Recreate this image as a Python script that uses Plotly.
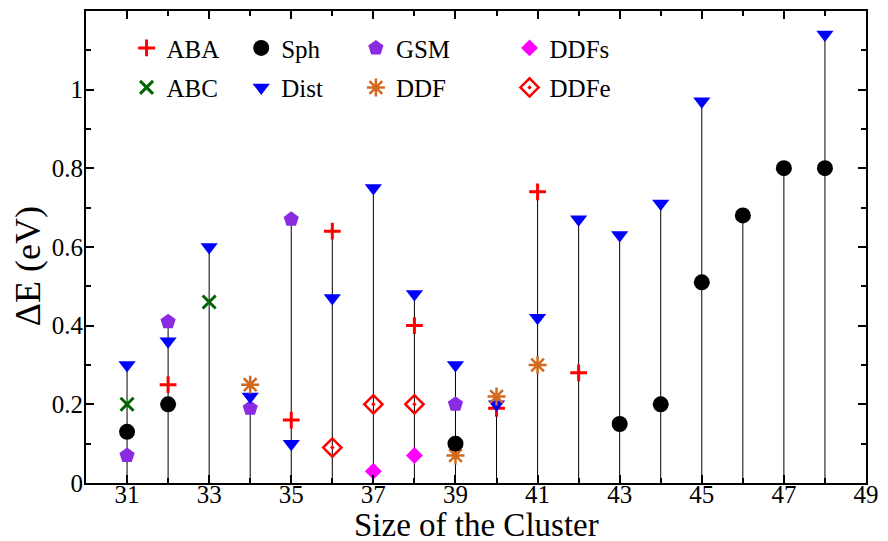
import plotly.graph_objects as go

# ---- data ----
aba_x = [32, 35, 36, 38, 40, 41, 42]
aba_y = [0.25, 0.16, 0.64, 0.40, 0.19, 0.74, 0.28]
abc_x = [31, 33]
abc_y = [0.20, 0.46]
sph_x = [31, 32, 39, 43, 44, 45, 46, 47, 48]
sph_y = [0.13, 0.20, 0.10, 0.15, 0.20, 0.51, 0.68, 0.80, 0.80]
dist_x = [31, 32, 33, 34, 35, 36, 37, 38, 39, 40, 41, 42, 43, 44, 45, 48]
dist_y = [0.30, 0.36, 0.60, 0.22, 0.10, 0.47, 0.75, 0.48, 0.30, 0.20, 0.42, 0.67, 0.63, 0.71, 0.97, 1.14]
gsm_x = [31, 32, 34, 35, 39]
gsm_y = [0.07, 0.41, 0.19, 0.67, 0.20]
ddf_x = [34, 39, 40, 41]
ddf_y = [0.25, 0.07, 0.22, 0.30]
ddfs_x = [37, 38]
ddfs_y = [0.03, 0.07]
ddfe_x = [36, 37, 38]
ddfe_y = [0.09, 0.20, 0.20]

x_tickvals = [31, 33, 35, 37, 39, 41, 43, 45, 47, 49]

FONT = "Liberation Serif, Times New Roman, DejaVu Serif, serif"

series = [
    # name, xs, ys, symbol, color, size, linewidth, legend, rank
    ("ABA", aba_x, aba_y, "cross-thin", "#ff0000", 12, 3, "legend", 1),
    ("ABC", abc_x, abc_y, "x-thin", "#006400", 13, 3, "legend", 2),
    ("GSM", gsm_x, gsm_y, "pentagon", "#8a2be2", 16, 0, "legend3", 1),
    ("Dist", dist_x, dist_y, "triangle-down", "#0000ff", 15, 0, "legend2", 2),
    ("DDF", ddf_x, ddf_y, "asterisk-open", "#d2691e", 15, 2.5, "legend3", 2),
    ("Sph", sph_x, sph_y, "circle", "#000000", 16, 0, "legend2", 1),
    ("DDFs", ddfs_x, ddfs_y, "diamond", "#ff00ff", 13, 0, "legend4", 1),
    ("DDFe", ddfe_x, ddfe_y, "diamond-open-dot", "#ff0000", 14, 2.5, "legend4", 2),
]

# stems: from 0 up to the highest value at each cluster size
top = {}
for _, xs, ys, *_rest in series:
    for xv, yv in zip(xs, ys):
        top[xv] = max(top.get(xv, 0), yv)
stem_x, stem_y = [], []
for xv in sorted(top):
    stem_x += [xv, xv, None]
    stem_y += [0, top[xv], None]

fig = go.Figure()
fig.add_trace(go.Scatter(x=stem_x, y=stem_y, mode="lines",
                         line=dict(color="black", width=1), showlegend=False,
                         hoverinfo="skip"))

for name, xs, ys, sym, col, size, lw, leg, rank in series:
    mk = dict(symbol=sym, color=col, size=size)
    mk["line"] = dict(color=col, width=lw)
    fig.add_trace(go.Scatter(x=xs, y=ys, mode="markers", name=name, marker=mk,
                             legend=leg, legendrank=rank, legendgroup=name))

W, H = 888, 541
ml, mr, mt, mb = 86, 20, 9, 58

leg_common = dict(orientation="v", xanchor="left", yanchor="top", y=0.97,
                  bgcolor="rgba(0,0,0,0)", borderwidth=0,
                  font=dict(family=FONT, size=25, color="black"),
                  tracegroupgap=4)

axis_common = dict(showgrid=False, zeroline=False, showline=True, linecolor="black",
                   linewidth=2, ticks="inside", tickcolor="black", tickwidth=2,
                   mirror="ticks",
                   tickfont=dict(family=FONT, size=25, color="black"))

fig.update_layout(
    width=W, height=H,
    margin=dict(l=ml, r=mr, t=mt, b=mb),
    paper_bgcolor="white", plot_bgcolor="white",
    font=dict(family=FONT, color="black"),
    legend=dict(leg_common, x=0.052),
    legend2=dict(leg_common, x=0.199),
    legend3=dict(leg_common, x=0.346),
    legend4=dict(leg_common, x=0.543),
    xaxis=dict(axis_common, range=[30, 49.0001], tickvals=x_tickvals, ticklen=8,
               ticklabelstandoff=-12,
               minor=dict(dtick=1, tick0=30, ticklen=5, ticks="inside",
                          tickcolor="black", tickwidth=2)),
    yaxis=dict(axis_common, range=[0, 1.1995], dtick=0.2, tick0=0, ticklen=8,
               ticklabelstandoff=-4,
               minor=dict(dtick=0.1, tick0=0, ticklen=5, ticks="inside",
                          tickcolor="black", tickwidth=2)),
    annotations=[
        dict(text="Size of the Cluster", xref="paper", yref="paper",
             x=0.5, y=-0.088, xanchor="center", yanchor="middle", showarrow=False,
             font=dict(family=FONT, size=33, color="black")),
        dict(text="ΔE (eV)", xref="paper", yref="paper", textangle=-90,
             x=-0.074, y=0.46, xanchor="center", yanchor="middle", showarrow=False,
             font=dict(family=FONT, size=36, color="black")),
    ],
)

fig.write_html("out.html")
